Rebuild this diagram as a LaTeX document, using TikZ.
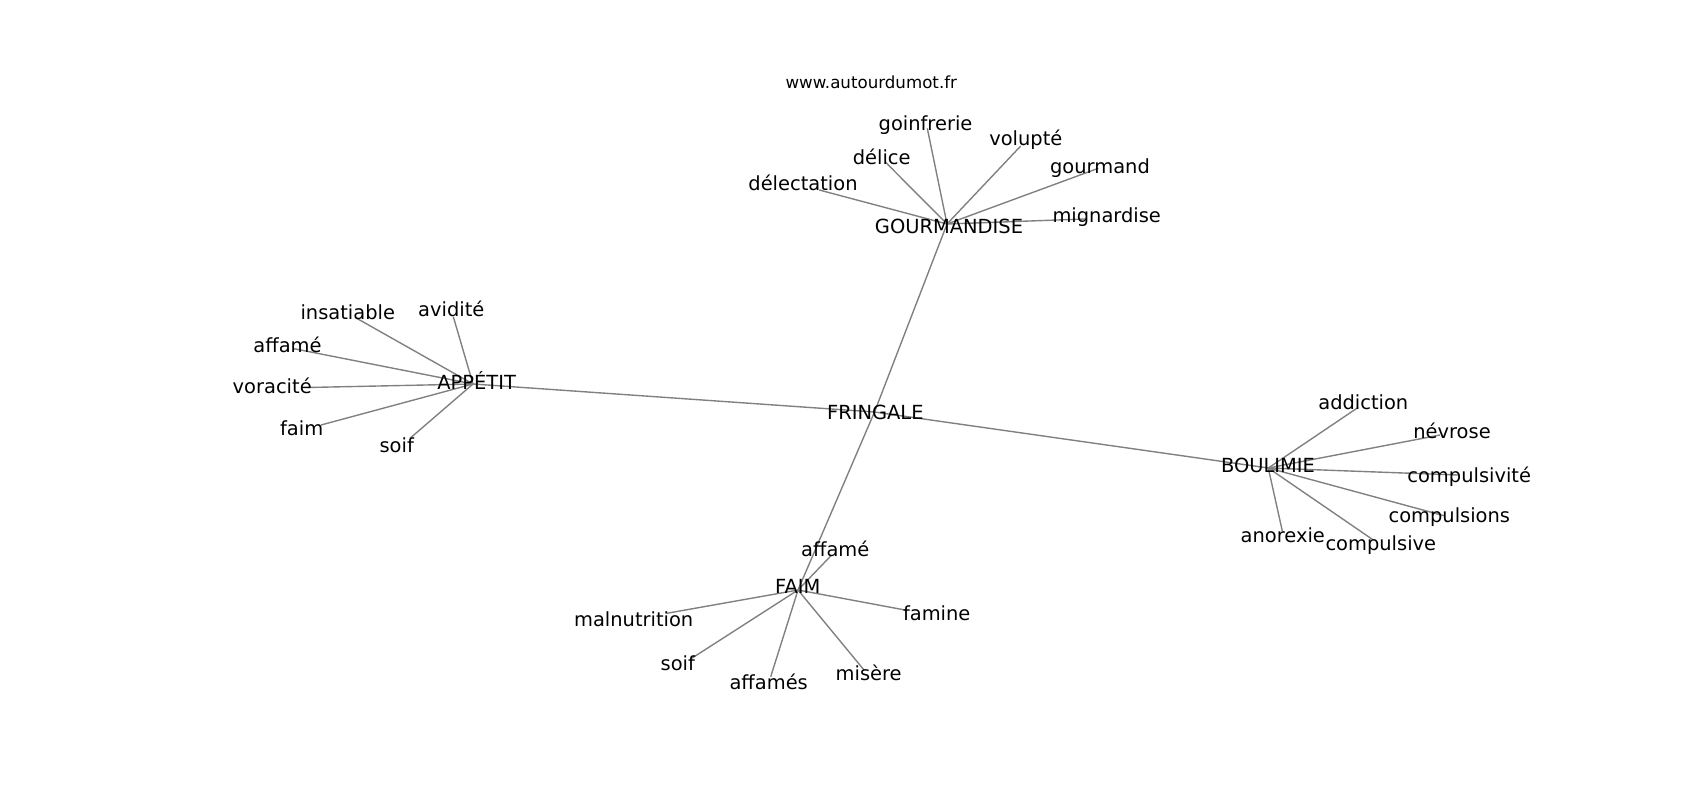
\documentclass[tikz,border=0pt]{standalone}
\usepackage{fontspec}
\setmainfont{DejaVu Sans}
\pgfdeclarelayer{bg}
\pgfsetlayers{bg,main}
\tikzset{
  lbl/.style={anchor=base, inner sep=0pt, font=\fontsize{14pt}{16pt}\selectfont, text=black},
  ttl/.style={anchor=base, inner sep=0pt, font=\fontsize{12pt}{14pt}\selectfont, text=black},
  edge/.style={draw={rgb,255:red,128;green,128;blue,128}, line width=1pt},
}
\begin{document}
\begin{tikzpicture}[x=0.72pt, y=-0.72pt]
\useasboundingbox (0,0) rectangle (1700,800);
% title
\node[ttl] (title) at (871.3,88.3) {www.autourdumot.fr};
% hubs
\coordinate (hFr) at (874.5,412);
\coordinate (hGo) at (947,224);
\coordinate (hAp) at (473,384);
\coordinate (hBo) at (1268.3,468);
\coordinate (hFa) at (798,590);
\node[lbl] (fringale) at (875.3,419.3) {FRINGALE};
\node[lbl] (gourmandise) at (949,233.3) {GOURMANDISE};
\node[lbl] (appetit) at (476.7,389.8) {APPÉTIT};
\node[lbl] (boulimie) at (1268,472.7) {BOULIMIE};
\node[lbl] (faim) at (797.8,593.3) {FAIM};
% GOURMANDISE leaves
\coordinate (pGoinfrerie) at (927.3,128.3);
\coordinate (pDelice) at (886,162.7);
\coordinate (pVolupte) at (1020.7,146);
\coordinate (pGourmand) at (1098.3,168.3);
\coordinate (pDelectation) at (819.3,190);
\coordinate (pMignardise) at (1085,219);
\node[lbl] (goinfrerie) at (925.5,130.7) {goinfrerie};
\node[lbl] (delice) at (881.7,164) {délice};
\node[lbl] (volupte) at (1025.8,145) {volupté};
\node[lbl] (gourmand) at (1100,173.3) {gourmand};
\node[lbl] (delectation) at (803,190) {délectation};
\node[lbl] (mignardise) at (1106.7,222.3) {mignardise};
% APPETIT leaves
\coordinate (pInsatiable) at (356.7,318.3);
\coordinate (pAvidite) at (453.3,316.7);
\coordinate (pAffameA) at (293,348.5);
\coordinate (pVoracite) at (307,387.5);
\coordinate (pFaimA) at (321,425);
\coordinate (pSoifA) at (410,438.3);
\node[lbl] (insatiable) at (347.8,319.3) {insatiable};
\node[lbl] (avidite) at (451.3,316.7) {avidité};
\node[lbl] (affameA) at (287.5,352.7) {affamé};
\node[lbl] (voracite) at (272.2,393.3) {voracité};
\node[lbl] (faimA) at (301.7,435.5) {faim};
\node[lbl] (soifA) at (396.7,452.3) {soif};
% BOULIMIE leaves
\coordinate (pAddiction) at (1358.3,407.3);
\coordinate (pNevrose) at (1440,435);
\coordinate (pCompulsivite) at (1458,475);
\coordinate (pCompulsions) at (1445,516);
\coordinate (pCompulsive) at (1373.3,540);
\coordinate (pAnorexie) at (1282.3,531);
\node[lbl] (addiction) at (1363.3,409.3) {addiction};
\node[lbl] (nevrose) at (1452,438.3) {névrose};
\node[lbl] (compulsivite) at (1469.2,482.3) {compulsivité};
\node[lbl] (compulsions) at (1449.3,522.7) {compulsions};
\node[lbl] (compulsive) at (1380.8,550) {compulsive};
\node[lbl] (anorexie) at (1282.8,542.3) {anorexie};
% FAIM leaves
\coordinate (pAffameF) at (830.7,556);
\coordinate (pFamine) at (905,610);
\coordinate (pMalnutrition) at (666.7,613.3);
\coordinate (pSoifF) at (691.7,658.3);
\coordinate (pAffames) at (770.7,676.7);
\coordinate (pMisere) at (864,670);
\node[lbl] (affameF) at (835.3,556) {affamé};
\node[lbl] (famine) at (936.7,620) {famine};
\node[lbl] (malnutrition) at (633.7,626.7) {malnutrition};
\node[lbl] (soifF) at (677.8,670) {soif};
\node[lbl] (affames) at (768.7,689.3) {affamés};
\node[lbl] (misere) at (868.7,680.7) {misère};
\begin{pgfonlayer}{bg}
\draw[edge] (hFr) -- (hGo);
\draw[edge] (hFr) -- (hAp);
\draw[edge] (hFr) -- (hBo);
\draw[edge] (hFr) -- (hFa);
\foreach \p in {pGoinfrerie,pDelice,pVolupte,pGourmand,pDelectation,pMignardise}
  \draw[edge] (hGo) -- (\p);
\foreach \p in {pInsatiable,pAvidite,pAffameA,pVoracite,pFaimA,pSoifA}
  \draw[edge] (hAp) -- (\p);
\foreach \p in {pAddiction,pNevrose,pCompulsivite,pCompulsions,pCompulsive,pAnorexie}
  \draw[edge] (hBo) -- (\p);
\foreach \p in {pAffameF,pFamine,pMalnutrition,pSoifF,pAffames,pMisere}
  \draw[edge] (hFa) -- (\p);
\end{pgfonlayer}
\end{tikzpicture}
\end{document}
